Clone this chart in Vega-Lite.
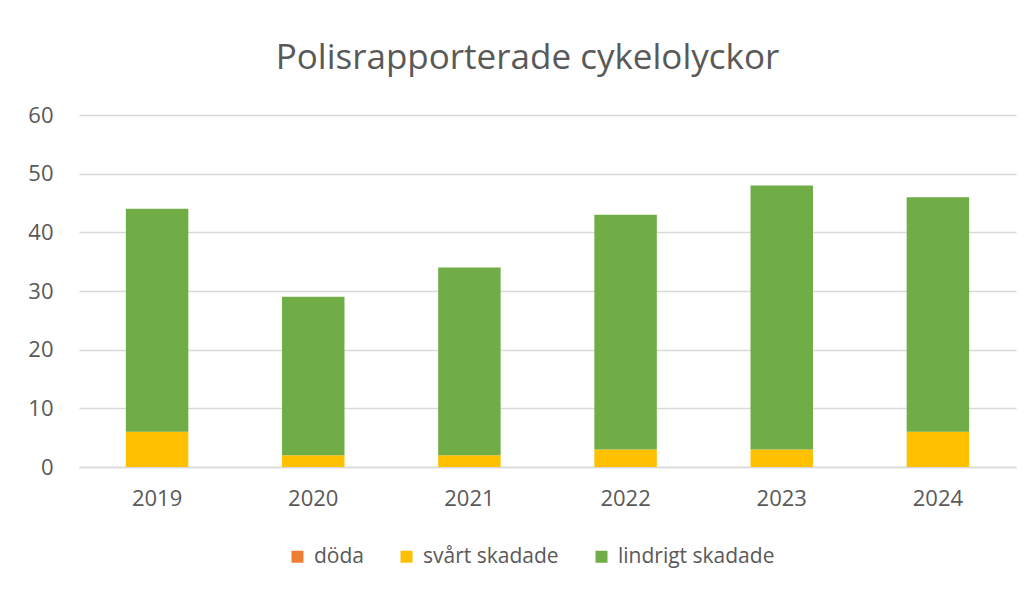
{
  "$schema": "https://vega.github.io/schema/vega-lite/v6.json",
  "autosize": {"type": "none"},
  "width": 937,
  "height": 352,
  "padding": {"left": 79, "top": 115, "right": 18, "bottom": 127},
  "background": "white",
  "title": {
    "text": "Polisrapporterade cykelolyckor",
    "fontSize": 35,
    "font": "Open Sans",
    "fontWeight": "normal",
    "color": "#595959",
    "offset": 28,
    "dx": -20
  },
  "data": {
    "values": [
      {"year": "2019", "cat": "döda", "ord": 0, "value": 0},
      {"year": "2019", "cat": "svårt skadade", "ord": 1, "value": 6},
      {"year": "2019", "cat": "lindrigt skadade", "ord": 2, "value": 38},
      {"year": "2020", "cat": "döda", "ord": 0, "value": 0},
      {"year": "2020", "cat": "svårt skadade", "ord": 1, "value": 2},
      {"year": "2020", "cat": "lindrigt skadade", "ord": 2, "value": 27},
      {"year": "2021", "cat": "döda", "ord": 0, "value": 0},
      {"year": "2021", "cat": "svårt skadade", "ord": 1, "value": 2},
      {"year": "2021", "cat": "lindrigt skadade", "ord": 2, "value": 32},
      {"year": "2022", "cat": "döda", "ord": 0, "value": 0},
      {"year": "2022", "cat": "svårt skadade", "ord": 1, "value": 3},
      {"year": "2022", "cat": "lindrigt skadade", "ord": 2, "value": 40},
      {"year": "2023", "cat": "döda", "ord": 0, "value": 0},
      {"year": "2023", "cat": "svårt skadade", "ord": 1, "value": 3},
      {"year": "2023", "cat": "lindrigt skadade", "ord": 2, "value": 45},
      {"year": "2024", "cat": "döda", "ord": 0, "value": 0},
      {"year": "2024", "cat": "svårt skadade", "ord": 1, "value": 6},
      {"year": "2024", "cat": "lindrigt skadade", "ord": 2, "value": 40}
    ]
  },
  "mark": {"type": "bar"},
  "encoding": {
    "x": {
      "field": "year",
      "type": "nominal",
      "scale": {"paddingInner": 0.6, "paddingOuter": 0.3},
      "axis": {
        "title": null,
        "labelAngle": 0,
        "ticks": false,
        "domain": true,
        "domainColor": "#D9D9D9",
        "domainWidth": 1.5,
        "labelPadding": 21,
        "labelFontSize": 22,
        "labelFont": "Open Sans",
        "labelColor": "#595959"
      }
    },
    "y": {
      "field": "value",
      "type": "quantitative",
      "stack": "zero",
      "scale": {"domain": [0, 60], "nice": false},
      "axis": {
        "title": null,
        "values": [0, 10, 20, 30, 40, 50, 60],
        "ticks": false,
        "domain": false,
        "grid": true,
        "gridColor": "#D9D9D9",
        "gridWidth": 1.5,
        "labelPadding": 26,
        "labelFontSize": 22,
        "labelFont": "Open Sans",
        "labelColor": "#595959"
      }
    },
    "color": {
      "field": "cat",
      "type": "nominal",
      "scale": {
        "domain": ["döda", "svårt skadade", "lindrigt skadade"],
        "range": ["#ED7D31", "#FFC000", "#70AD47"]
      },
      "legend": {
        "title": null,
        "orient": "none",
        "direction": "horizontal",
        "legendX": 208,
        "legendY": 431,
        "symbolType": "square",
        "symbolSize": 144,
        "symbolStrokeWidth": 0,
        "labelFontSize": 21,
        "labelFont": "Open Sans",
        "labelColor": "#595959",
        "labelOffset": 6,
        "columnPadding": 32
      }
    },
    "order": {"field": "ord", "type": "quantitative"}
  },
  "config": {"view": {"stroke": null}}
}
